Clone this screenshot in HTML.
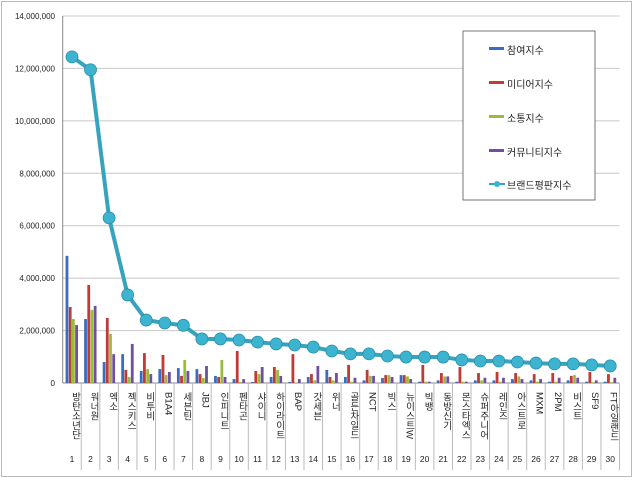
<!DOCTYPE html>
<html><head><meta charset="utf-8"><style>
body{margin:0;background:#fff;}
svg text{font-family:"Liberation Sans","Noto Sans CJK KR",sans-serif;}
</style></head><body>
<svg id="chart" width="640" height="486" viewBox="0 0 640 486" xmlns="http://www.w3.org/2000/svg">
<rect x="1.5" y="1.5" width="630" height="475" fill="#fff" stroke="#bbb"/>
<g id="grid"></g><g id="bars"></g><g id="line"></g><g id="xlabels"></g><g id="ylabels"></g>
<g>
<rect x="463" y="31" width="132" height="169" fill="#fff" stroke="#555" stroke-width="0.8"/>
<rect x="489" y="47" width="15" height="3" fill="#3a6cc0"/><text x="507" y="54" font-size="10" fill="#222">참여지수</text>
<rect x="489" y="81" width="15" height="3" fill="#c03a36"/><text x="507" y="88" font-size="10" fill="#222">미디어지수</text>
<rect x="489" y="115" width="15" height="3" fill="#9bbb3e"/><text x="507" y="122" font-size="10" fill="#222">소통지수</text>
<rect x="489" y="149" width="15" height="3" fill="#6e4fa0"/><text x="507" y="156" font-size="10" fill="#222">커뮤니티지수</text>
<line x1="489" y1="184" x2="505" y2="184" stroke="#37a3bd" stroke-width="2"/><circle cx="497" cy="184" r="3" fill="#3cb4d0"/><text x="507" y="189" font-size="10" fill="#222">브랜드평판지수</text>
</g>
</svg>
<script>
const categories=["방탄소년단","워너원","엑소","젝스키스","비투비","B1A4","세븐틴","JBJ","인피니트","펜타곤","샤이니","하이라이트","BAP","갓세븐","위너","골든차일드","NCT","빅스","뉴이스트W","빅뱅","동방신기","몬스타엑스","슈퍼주니어","레인즈","아스트로","MXM","2PM","비스트","SF9","FT아일랜드"];
const participation=[4.85,2.44,0.8,1.1,0.46,0.53,0.57,0.53,0.27,0.15,0.04,0.23,0.04,0.23,0.5,0.23,0.1,0.19,0.3,0.05,0.1,0.05,0.1,0.1,0.15,0.1,0.05,0.1,0.05,0.05];
const media=[2.9,3.74,2.48,0.5,1.14,1.07,0.27,0.34,0.23,1.22,0.46,0.61,1.1,0.34,0.23,0.69,0.5,0.3,0.3,0.69,0.38,0.61,0.38,0.42,0.38,0.34,0.38,0.27,0.42,0.34];
const communication=[2.44,2.79,1.87,0.23,0.53,0.3,0.88,0.19,0.88,0.04,0.34,0.5,0.02,0.1,0.1,0.05,0.27,0.3,0.25,0.05,0.25,0.05,0.1,0.05,0.25,0.05,0.05,0.3,0.03,0.03];
const community=[2.21,2.94,1.1,1.49,0.34,0.42,0.46,0.65,0.23,0.15,0.61,0.27,0.15,0.65,0.38,0.2,0.27,0.23,0.15,0.05,0.25,0.05,0.2,0.2,0.15,0.15,0.2,0.2,0.1,0.2];
const brandIndex=[12.44,11.95,6.3,3.36,2.4,2.29,2.2,1.68,1.68,1.64,1.56,1.49,1.45,1.37,1.22,1.11,1.11,1.03,0.99,0.99,0.99,0.88,0.84,0.84,0.8,0.76,0.73,0.73,0.69,0.65];
const yTicks=["0","2,000,000","4,000,000","6,000,000","8,000,000","10,000,000","12,000,000","14,000,000"];
const NS="http://www.w3.org/2000/svg";
const X0=62.7,X1=619.5,Y0=383,Y1=16,YMAX=14;
const bw=(X1-X0)/categories.length;
const y=v=>Y0-(v/YMAX)*(Y0-Y1);
const xc=i=>X0+bw*(i+0.5);
function mk(tag,attrs,parent){const e=document.createElementNS(NS,tag);for(const k in attrs)e.setAttribute(k,attrs[k]);document.getElementById(parent).appendChild(e);return e;}
yTicks.forEach((t,i)=>{const v=i*2;const yy=y(v);
 const g=mk("line",{x1:X0,x2:X1,y1:yy,y2:yy,stroke:i==0?"#888":"#c8c8c8","stroke-width":1},"grid");
 
 
 const tx=mk("text",{x:55,y:yy+3,"font-size":8,"text-anchor":"end",fill:"#222"},"ylabels");tx.textContent=t;
 
 
});
const ax=mk("line",{x1:X0,x2:X0,y1:Y1,y2:Y0,stroke:"#888"},"grid");


const series=[[participation,"#3a6cc0"],[media,"#c03a36"],[communication,"#9bbb3e"],[community,"#6e4fa0"]];
const sub=3.2;
categories.forEach((c,i)=>{
 series.forEach((s,j)=>{const v=s[0][i];const bx=xc(i)-2*sub+j*sub;
  const r=mk("rect",{x:bx,y:y(v),width:sub-0.4,height:Y0-y(v),fill:s[1]},"bars");
  
  
 });
 const sep=mk("line",{x1:X0+bw*(i+1),x2:X0+bw*(i+1),y1:Y0,y2:470,stroke:"#bbb"},"grid");
 
 
 const t=mk("text",{x:xc(i)+3,y:392,"font-size":9.5,fill:"#222","writing-mode":"tb"},"xlabels");t.textContent=c;
 
 
 const n=mk("text",{x:xc(i),y:462,"font-size":8.5,"text-anchor":"middle",fill:"#222"},"xlabels");n.textContent=String(i+1);
 
 
});
const pts=brandIndex.map((v,i)=>xc(i)+","+y(v)).join(" ");
const pl=mk("polyline",{points:pts,fill:"none",stroke:"#37a3bd","stroke-width":4,"stroke-linejoin":"round"},"line");


brandIndex.forEach((v,i)=>{const c=mk("circle",{cx:xc(i),cy:y(v),r:6,fill:"#3cb4d0",stroke:"#2a8fa8","stroke-width":0.8},"line");
 
 
});
</script>
</body></html>
